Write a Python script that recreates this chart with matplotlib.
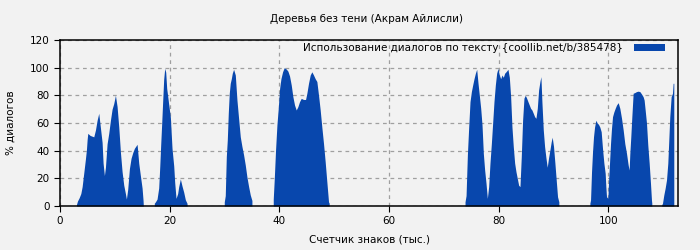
import matplotlib
matplotlib.use('Agg')
import matplotlib.pyplot as plt
import numpy as np

# Блоки с диалогами: счетчик знаков (тыс.) и доля диалогов (%)
block1_x = [3.0, 3.0, 3.19, 3.5, 3.8, 4.04, 4.4, 4.64, 4.83, 4.95, 5.07, 5.5, 6.16, 6.47, 6.77, 7.07,
            7.68, 7.86, 8.1, 8.29, 8.59, 8.89, 9.2, 9.5, 9.8, 10.11, 10.41, 10.72, 11.02, 11.32, 11.63,
            11.93, 12.11, 12.35, 12.66, 12.96, 13.27, 13.57, 14.06, 14.36, 14.66, 14.97, 15.15, 15.2]
block1_y = [0, 1, 3.6, 6, 9, 14, 26, 34, 41, 48, 52.5, 51, 50, 55, 62, 67,
            46, 31, 22, 28, 45, 52.5, 62, 70, 74, 80, 72, 57, 39, 25, 15,
            9, 5, 12, 27, 34.5, 38.6, 41.7, 44.6, 31, 22, 13, 4, 0]

block2_x = [17.2, 17.2, 17.4, 17.7, 18.0, 18.2, 18.37, 18.55, 18.73, 18.91, 19.1, 19.28, 19.46, 19.64,
            19.82, 20.13, 20.43, 20.74, 20.92, 21.16, 21.46, 21.65, 21.95, 22.25, 22.56, 22.86, 23.16, 23.2]
block2_y = [0, 2, 3, 5, 13, 29, 44.6, 60, 76, 91.6, 99.5, 96.7, 85, 79.5,
            73.7, 64, 41.7, 29, 17, 5.5, 9, 14, 19.5, 14.5, 10, 4.5, 2, 0]

block3_x = [29.96, 29.96, 30.14, 30.33, 30.51, 30.69, 30.87, 31.05, 31.24, 31.42, 31.66, 31.97, 32.27,
            32.57, 32.88, 33.18, 33.48, 33.79, 34.09, 34.4, 34.7, 35.0, 35.0]
block3_y = [0, 3, 7.5, 35.7, 47.7, 67, 81.5, 88.7, 92, 96, 98.8, 94.7, 76.6,
            63.4, 50, 43, 37, 29.6, 21, 14, 8, 4, 0]

block4_x = [38.89, 38.89, 39.07, 39.31, 39.56, 39.8, 40.05, 40.29, 40.59, 40.89, 41.26, 41.56, 41.86,
            42.17, 42.47, 42.77, 43.08, 43.38, 43.68, 43.99, 44.41, 44.78, 45.02, 45.32, 45.63, 45.93,
            46.23, 46.54, 46.84, 47.15, 47.45, 47.75, 48.06, 48.36, 48.66, 48.97, 49.09, 49.09]
block4_y = [0, 5, 19, 40.5, 58.6, 70.6, 85, 92, 97, 100, 99, 97.5, 94,
            87.5, 79, 73, 69.4, 71.8, 75.4, 77.8, 77, 77, 81.5, 88.7, 94.7, 97,
            94.7, 92, 90, 80, 69.4, 57, 45, 32, 17.6, 3, 2, 0]

block5_x = [73.86, 73.86, 74.05, 74.29, 74.53, 74.77, 75.02, 75.26, 75.5, 75.75, 75.99, 76.23, 76.47,
            76.72, 76.96, 77.2, 77.44, 77.69, 77.93, 78.17, 78.41, 78.66, 78.9, 79.14, 79.39, 79.63,
            79.87, 80.11, 80.36, 80.6, 80.84, 81.09, 81.33, 81.69, 81.94, 82.18, 82.42, 82.66, 82.91,
            83.15, 83.39, 83.64, 83.88, 84.12, 84.36, 84.61, 84.85, 85.09, 85.34, 85.58, 85.82, 86.06,
            86.31, 86.55, 86.79, 87.04, 87.28, 87.52, 87.7, 87.88, 88.13, 88.37, 88.61, 88.85, 89.1,
            89.34, 89.58, 89.76, 90.0, 90.25, 90.49, 90.73, 90.97, 90.97]
block5_y = [0, 3, 7.5, 37, 57, 75.4, 82.7, 87.5, 92, 96, 98.8, 88.7, 80,
            70.6, 58.6, 38, 26, 16.4, 5.5, 14, 31, 45, 60, 75.4, 87.5, 96,
            99.5, 94.7, 92, 94.7, 93, 96, 97, 98.8, 93, 79, 57, 43, 31,
            24.8, 20, 15, 14, 35.7, 62, 78, 80, 78, 75.4, 73, 70.6, 69.4,
            67, 64.6, 63.4, 70.6, 83.9, 90, 93.5, 75.4, 55, 43, 35, 28, 35,
            40.5, 46.5, 49.7, 43, 31, 18.8, 6.7, 3, 0]

block6_x = [96.63, 96.63, 96.75, 96.93, 97.11, 97.29, 97.48, 97.72, 97.96, 98.2, 98.45, 98.69, 98.93,
            99.18, 99.42, 99.54, 99.66, 99.91, 100.03, 100.21, 100.39, 100.57, 100.76, 101.0, 101.24,
            101.49, 101.79, 102.09, 102.4, 102.7, 103.0, 103.31, 103.61, 103.79, 103.91, 104.09, 104.28,
            104.52, 104.82, 105.13, 105.43, 105.74, 106.04, 106.34, 106.52, 106.71, 106.95, 107.19,
            107.44, 107.68, 107.86, 107.92, 107.92]
block6_y = [0, 2, 4.3, 24.8, 39, 50, 57, 62, 60, 59, 57, 53.7, 41.7,
            31, 23.6, 14, 6.7, 5.5, 17.6, 31, 45, 56, 64.6, 68, 70.6,
            73, 74.7, 70.6, 63.4, 55, 45, 38, 29.6, 26, 37.6, 50, 64.6,
            81.5, 82, 82.7, 83, 82.7, 81, 79, 76.6, 69.4, 60, 44,
            31, 16.4, 4.3, 2, 0]

block7_x = [109.74, 109.74, 109.87, 110.11, 110.35, 110.6, 110.84, 111.02, 111.2, 111.45, 111.69,
            111.81, 111.93, 111.93]
block7_y = [0, 1, 2, 8, 12.8, 18.8, 31, 47.7, 64.6, 79, 81.5, 88.7, 88.7, 0]

blocks_x = [block1_x, block2_x, block3_x, block4_x, block5_x, block6_x, block7_x]
blocks_y = [block1_y, block2_y, block3_y, block4_y, block5_y, block6_y, block7_y]

x_max = 112.7
title = 'Деревья без тени (Акрам Айлисли)'
legend_label = 'Использование диалогов по тексту {coollib.net/b/385478}'

bg = '#f2f2f2'
blue = '#0847ad'
fs = 7.5

fig = plt.figure(figsize=(7, 2.5), dpi=100, facecolor=bg)
ax = fig.add_axes([0.0857, 0.176, 0.8829, 0.664])
ax.set_facecolor(bg)

for i, (bx, by) in enumerate(zip(blocks_x, blocks_y)):
	ax.fill_between(bx, by, 0, color=blue, linewidth=0,
	                label=legend_label if i == 0 else None, zorder=2)

ax.set_xlim(0, x_max)
ax.set_ylim(0, 120)
ax.set_xticks(np.arange(0, 101, 20))
ax.set_yticks(np.arange(0, 121, 20))
ax.tick_params(labelsize=fs, length=4, color='black')
ax.grid(True, color='#a0a0a0', linestyle=(0, (3, 3)), linewidth=0.9, zorder=1)
ax.set_axisbelow(True)
for s in ax.spines.values():
	s.set_linewidth(1.1)
	s.set_color('black')

ax.set_xlabel('Счетчик знаков (тыс.)', fontsize=fs, labelpad=6)
ax.set_ylabel('% диалогов', fontsize=fs, labelpad=10)
fig.suptitle(title, fontsize=fs, y=0.945, x=0.524)

ax.legend(loc='upper right', bbox_to_anchor=(0.989, 1.018), frameon=False, fontsize=fs,
          handlelength=3.0, handleheight=0.7, borderaxespad=0.3, borderpad=0.3,
          handletextpad=1.0, markerfirst=False)

fig.savefig('out.png', dpi=100, facecolor=bg)
